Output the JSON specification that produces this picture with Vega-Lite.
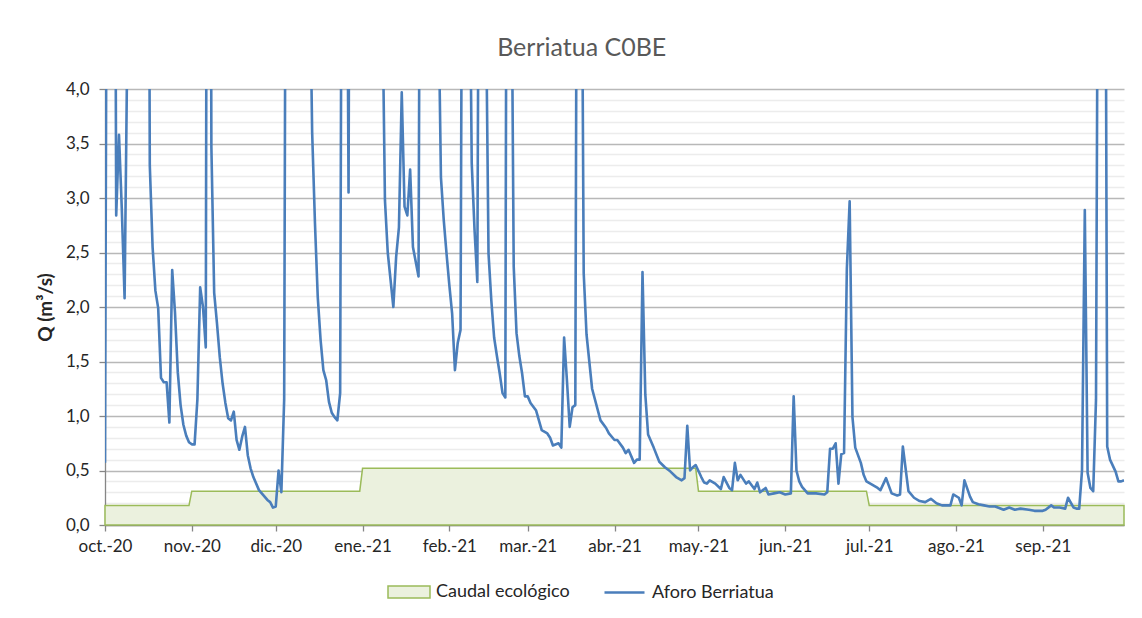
{
  "$schema": "https://vega.github.io/schema/vega-lite/v6.json",
  "width": 1019,
  "height": 436,
  "autosize": {"type": "none"},
  "padding": {"left": 105, "top": 89, "right": 18, "bottom": 93},
  "background": "white",
  "title": {"text": "Berriatua C0BE", "fontSize": 25, "font": "Lato", "color": "#595959", "fontWeight": "normal", "anchor": "middle", "frame": "bounds", "offset": 19},
  "datasets": {
    "caudal": [
      {"fecha": "2020-10-01", "q": 0.18}, {"fecha": "2020-10-31", "q": 0.18},
      {"fecha": "2020-11-01", "q": 0.31}, {"fecha": "2020-12-31", "q": 0.31},
      {"fecha": "2021-01-01", "q": 0.52}, {"fecha": "2021-04-30", "q": 0.52},
      {"fecha": "2021-05-01", "q": 0.31}, {"fecha": "2021-06-30", "q": 0.31},
      {"fecha": "2021-07-01", "q": 0.18}, {"fecha": "2021-09-30", "q": 0.18}
    ],
    "aforo": [
      {"fecha": "2020-10-01", "q": 0.57}, {"fecha": "2020-10-02", "q": 9}, {"fecha": "2020-10-03", "q": 12},
      {"fecha": "2020-10-04", "q": 11}, {"fecha": "2020-10-05", "q": 2.84}, {"fecha": "2020-10-06", "q": 3.58},
      {"fecha": "2020-10-07", "q": 2.9}, {"fecha": "2020-10-08", "q": 2.08}, {"fecha": "2020-10-09", "q": 4.5},
      {"fecha": "2020-10-10", "q": 8}, {"fecha": "2020-10-11", "q": 10}, {"fecha": "2020-10-12", "q": 12},
      {"fecha": "2020-10-13", "q": 10}, {"fecha": "2020-10-14", "q": 9}, {"fecha": "2020-10-15", "q": 8},
      {"fecha": "2020-10-16", "q": 12}, {"fecha": "2020-10-17", "q": 3.3}, {"fecha": "2020-10-18", "q": 2.55},
      {"fecha": "2020-10-19", "q": 2.15}, {"fecha": "2020-10-20", "q": 1.99}, {"fecha": "2020-10-21", "q": 1.35},
      {"fecha": "2020-10-22", "q": 1.31}, {"fecha": "2020-10-23", "q": 1.31}, {"fecha": "2020-10-24", "q": 0.94},
      {"fecha": "2020-10-25", "q": 2.34}, {"fecha": "2020-10-26", "q": 1.95}, {"fecha": "2020-10-27", "q": 1.4},
      {"fecha": "2020-10-28", "q": 1.1}, {"fecha": "2020-10-29", "q": 0.92}, {"fecha": "2020-10-30", "q": 0.82},
      {"fecha": "2020-10-31", "q": 0.76}, {"fecha": "2020-11-01", "q": 0.74}, {"fecha": "2020-11-02", "q": 0.74},
      {"fecha": "2020-11-03", "q": 1.15}, {"fecha": "2020-11-04", "q": 2.18}, {"fecha": "2020-11-05", "q": 2.0},
      {"fecha": "2020-11-06", "q": 1.63}, {"fecha": "2020-11-07", "q": 15}, {"fecha": "2020-11-08", "q": 3.47},
      {"fecha": "2020-11-09", "q": 2.13}, {"fecha": "2020-11-10", "q": 1.85}, {"fecha": "2020-11-11", "q": 1.54},
      {"fecha": "2020-11-12", "q": 1.3}, {"fecha": "2020-11-13", "q": 1.12}, {"fecha": "2020-11-14", "q": 0.98},
      {"fecha": "2020-11-15", "q": 0.96}, {"fecha": "2020-11-16", "q": 1.04}, {"fecha": "2020-11-17", "q": 0.78},
      {"fecha": "2020-11-18", "q": 0.69}, {"fecha": "2020-11-19", "q": 0.81}, {"fecha": "2020-11-20", "q": 0.9},
      {"fecha": "2020-11-21", "q": 0.64}, {"fecha": "2020-11-22", "q": 0.52}, {"fecha": "2020-11-23", "q": 0.44},
      {"fecha": "2020-11-25", "q": 0.32}, {"fecha": "2020-11-27", "q": 0.26}, {"fecha": "2020-11-28", "q": 0.23},
      {"fecha": "2020-11-29", "q": 0.21}, {"fecha": "2020-11-30", "q": 0.16}, {"fecha": "2020-12-01", "q": 0.17},
      {"fecha": "2020-12-02", "q": 0.5}, {"fecha": "2020-12-03", "q": 0.3}, {"fecha": "2020-12-04", "q": 1.15},
      {"fecha": "2020-12-05", "q": 10}, {"fecha": "2020-12-06", "q": 14}, {"fecha": "2020-12-08", "q": 11},
      {"fecha": "2020-12-10", "q": 9}, {"fecha": "2020-12-12", "q": 7}, {"fecha": "2020-12-13", "q": 5.4},
      {"fecha": "2020-12-14", "q": 3.6}, {"fecha": "2020-12-15", "q": 2.77}, {"fecha": "2020-12-16", "q": 2.09},
      {"fecha": "2020-12-17", "q": 1.7}, {"fecha": "2020-12-18", "q": 1.42}, {"fecha": "2020-12-19", "q": 1.33},
      {"fecha": "2020-12-20", "q": 1.13}, {"fecha": "2020-12-21", "q": 1.03}, {"fecha": "2020-12-22", "q": 0.99},
      {"fecha": "2020-12-23", "q": 0.96}, {"fecha": "2020-12-24", "q": 1.21}, {"fecha": "2020-12-25", "q": 10},
      {"fecha": "2020-12-26", "q": 8}, {"fecha": "2020-12-27", "q": 3.05}, {"fecha": "2020-12-28", "q": 12},
      {"fecha": "2020-12-30", "q": 15}, {"fecha": "2021-01-02", "q": 10}, {"fecha": "2021-01-05", "q": 8},
      {"fecha": "2021-01-07", "q": 6}, {"fecha": "2021-01-08", "q": 5}, {"fecha": "2021-01-09", "q": 2.98},
      {"fecha": "2021-01-10", "q": 2.5}, {"fecha": "2021-01-11", "q": 2.25}, {"fecha": "2021-01-12", "q": 2.0},
      {"fecha": "2021-01-13", "q": 2.46}, {"fecha": "2021-01-14", "q": 2.73}, {"fecha": "2021-01-15", "q": 3.97},
      {"fecha": "2021-01-16", "q": 2.92}, {"fecha": "2021-01-17", "q": 2.84}, {"fecha": "2021-01-18", "q": 3.26},
      {"fecha": "2021-01-19", "q": 2.55}, {"fecha": "2021-01-21", "q": 2.28}, {"fecha": "2021-01-22", "q": 10},
      {"fecha": "2021-01-24", "q": 14}, {"fecha": "2021-01-26", "q": 9}, {"fecha": "2021-01-28", "q": 5},
      {"fecha": "2021-01-29", "q": 3.19}, {"fecha": "2021-01-30", "q": 2.8}, {"fecha": "2021-01-31", "q": 2.49},
      {"fecha": "2021-02-01", "q": 2.2}, {"fecha": "2021-02-02", "q": 1.94}, {"fecha": "2021-02-03", "q": 1.42},
      {"fecha": "2021-02-04", "q": 1.67}, {"fecha": "2021-02-05", "q": 1.79}, {"fecha": "2021-02-06", "q": 9},
      {"fecha": "2021-02-07", "q": 12}, {"fecha": "2021-02-08", "q": 6}, {"fecha": "2021-02-09", "q": 3.32},
      {"fecha": "2021-02-10", "q": 2.71}, {"fecha": "2021-02-11", "q": 2.23}, {"fecha": "2021-02-12", "q": 9},
      {"fecha": "2021-02-13", "q": 8}, {"fecha": "2021-02-14", "q": 5}, {"fecha": "2021-02-15", "q": 2.49},
      {"fecha": "2021-02-16", "q": 2.06}, {"fecha": "2021-02-17", "q": 1.72}, {"fecha": "2021-02-18", "q": 1.55},
      {"fecha": "2021-02-19", "q": 1.39}, {"fecha": "2021-02-20", "q": 1.21}, {"fecha": "2021-02-21", "q": 1.17},
      {"fecha": "2021-02-22", "q": 12}, {"fecha": "2021-02-23", "q": 6}, {"fecha": "2021-02-24", "q": 2.37},
      {"fecha": "2021-02-25", "q": 1.76}, {"fecha": "2021-02-26", "q": 1.55}, {"fecha": "2021-02-27", "q": 1.39},
      {"fecha": "2021-02-28", "q": 1.18}, {"fecha": "2021-03-01", "q": 1.18}, {"fecha": "2021-03-02", "q": 1.12},
      {"fecha": "2021-03-04", "q": 1.05}, {"fecha": "2021-03-05", "q": 0.96}, {"fecha": "2021-03-06", "q": 0.87},
      {"fecha": "2021-03-08", "q": 0.84}, {"fecha": "2021-03-09", "q": 0.8}, {"fecha": "2021-03-10", "q": 0.73},
      {"fecha": "2021-03-12", "q": 0.75}, {"fecha": "2021-03-13", "q": 0.71}, {"fecha": "2021-03-14", "q": 1.72},
      {"fecha": "2021-03-15", "q": 1.33}, {"fecha": "2021-03-16", "q": 0.9}, {"fecha": "2021-03-17", "q": 1.08},
      {"fecha": "2021-03-18", "q": 1.1}, {"fecha": "2021-03-19", "q": 10}, {"fecha": "2021-03-20", "q": 7},
      {"fecha": "2021-03-21", "q": 2.31}, {"fecha": "2021-03-22", "q": 1.75}, {"fecha": "2021-03-24", "q": 1.25},
      {"fecha": "2021-03-27", "q": 0.96}, {"fecha": "2021-03-29", "q": 0.89}, {"fecha": "2021-03-30", "q": 0.84},
      {"fecha": "2021-04-01", "q": 0.78}, {"fecha": "2021-04-02", "q": 0.78}, {"fecha": "2021-04-04", "q": 0.71},
      {"fecha": "2021-04-05", "q": 0.66}, {"fecha": "2021-04-06", "q": 0.69}, {"fecha": "2021-04-08", "q": 0.57},
      {"fecha": "2021-04-09", "q": 0.6}, {"fecha": "2021-04-10", "q": 0.6}, {"fecha": "2021-04-11", "q": 2.32},
      {"fecha": "2021-04-12", "q": 1.2}, {"fecha": "2021-04-13", "q": 0.83}, {"fecha": "2021-04-15", "q": 0.71},
      {"fecha": "2021-04-17", "q": 0.58}, {"fecha": "2021-04-19", "q": 0.53}, {"fecha": "2021-04-21", "q": 0.49},
      {"fecha": "2021-04-23", "q": 0.44}, {"fecha": "2021-04-25", "q": 0.41}, {"fecha": "2021-04-26", "q": 0.43},
      {"fecha": "2021-04-27", "q": 0.91}, {"fecha": "2021-04-28", "q": 0.5}, {"fecha": "2021-04-29", "q": 0.53},
      {"fecha": "2021-04-30", "q": 0.55}, {"fecha": "2021-05-02", "q": 0.44}, {"fecha": "2021-05-03", "q": 0.39},
      {"fecha": "2021-05-04", "q": 0.38}, {"fecha": "2021-05-05", "q": 0.41}, {"fecha": "2021-05-07", "q": 0.38},
      {"fecha": "2021-05-09", "q": 0.33}, {"fecha": "2021-05-10", "q": 0.44}, {"fecha": "2021-05-12", "q": 0.34},
      {"fecha": "2021-05-13", "q": 0.32}, {"fecha": "2021-05-14", "q": 0.57}, {"fecha": "2021-05-15", "q": 0.41},
      {"fecha": "2021-05-16", "q": 0.46}, {"fecha": "2021-05-18", "q": 0.38}, {"fecha": "2021-05-19", "q": 0.4},
      {"fecha": "2021-05-21", "q": 0.33}, {"fecha": "2021-05-22", "q": 0.39}, {"fecha": "2021-05-23", "q": 0.3},
      {"fecha": "2021-05-25", "q": 0.34}, {"fecha": "2021-05-26", "q": 0.28}, {"fecha": "2021-05-28", "q": 0.29},
      {"fecha": "2021-05-30", "q": 0.3}, {"fecha": "2021-06-01", "q": 0.28}, {"fecha": "2021-06-03", "q": 0.29},
      {"fecha": "2021-06-04", "q": 1.18}, {"fecha": "2021-06-05", "q": 0.5}, {"fecha": "2021-06-06", "q": 0.4},
      {"fecha": "2021-06-07", "q": 0.35}, {"fecha": "2021-06-08", "q": 0.32}, {"fecha": "2021-06-09", "q": 0.29},
      {"fecha": "2021-06-12", "q": 0.29}, {"fecha": "2021-06-15", "q": 0.28}, {"fecha": "2021-06-16", "q": 0.3},
      {"fecha": "2021-06-17", "q": 0.7}, {"fecha": "2021-06-18", "q": 0.7}, {"fecha": "2021-06-19", "q": 0.75},
      {"fecha": "2021-06-20", "q": 0.38}, {"fecha": "2021-06-21", "q": 0.65}, {"fecha": "2021-06-22", "q": 0.66},
      {"fecha": "2021-06-23", "q": 2.35}, {"fecha": "2021-06-24", "q": 2.97}, {"fecha": "2021-06-25", "q": 0.99},
      {"fecha": "2021-06-26", "q": 0.71}, {"fecha": "2021-06-28", "q": 0.57}, {"fecha": "2021-06-29", "q": 0.46},
      {"fecha": "2021-06-30", "q": 0.4}, {"fecha": "2021-07-02", "q": 0.37}, {"fecha": "2021-07-04", "q": 0.34},
      {"fecha": "2021-07-05", "q": 0.32}, {"fecha": "2021-07-07", "q": 0.43}, {"fecha": "2021-07-09", "q": 0.29},
      {"fecha": "2021-07-11", "q": 0.27}, {"fecha": "2021-07-12", "q": 0.28}, {"fecha": "2021-07-13", "q": 0.72},
      {"fecha": "2021-07-15", "q": 0.31}, {"fecha": "2021-07-17", "q": 0.25}, {"fecha": "2021-07-19", "q": 0.22},
      {"fecha": "2021-07-21", "q": 0.21}, {"fecha": "2021-07-23", "q": 0.24}, {"fecha": "2021-07-25", "q": 0.2},
      {"fecha": "2021-07-27", "q": 0.18}, {"fecha": "2021-07-30", "q": 0.18}, {"fecha": "2021-07-31", "q": 0.28},
      {"fecha": "2021-08-02", "q": 0.25}, {"fecha": "2021-08-03", "q": 0.18}, {"fecha": "2021-08-04", "q": 0.41},
      {"fecha": "2021-08-06", "q": 0.26}, {"fecha": "2021-08-07", "q": 0.21}, {"fecha": "2021-08-09", "q": 0.19},
      {"fecha": "2021-08-11", "q": 0.18}, {"fecha": "2021-08-13", "q": 0.17}, {"fecha": "2021-08-15", "q": 0.17},
      {"fecha": "2021-08-18", "q": 0.14}, {"fecha": "2021-08-20", "q": 0.16}, {"fecha": "2021-08-22", "q": 0.14},
      {"fecha": "2021-08-24", "q": 0.15}, {"fecha": "2021-08-27", "q": 0.14}, {"fecha": "2021-08-29", "q": 0.13},
      {"fecha": "2021-09-01", "q": 0.13}, {"fecha": "2021-09-02", "q": 0.14}, {"fecha": "2021-09-04", "q": 0.18},
      {"fecha": "2021-09-05", "q": 0.16}, {"fecha": "2021-09-07", "q": 0.16}, {"fecha": "2021-09-09", "q": 0.15},
      {"fecha": "2021-09-10", "q": 0.25}, {"fecha": "2021-09-12", "q": 0.16}, {"fecha": "2021-09-13", "q": 0.15},
      {"fecha": "2021-09-14", "q": 0.15}, {"fecha": "2021-09-15", "q": 0.5}, {"fecha": "2021-09-16", "q": 2.89},
      {"fecha": "2021-09-17", "q": 0.48}, {"fecha": "2021-09-18", "q": 0.34}, {"fecha": "2021-09-19", "q": 0.31},
      {"fecha": "2021-09-20", "q": 1.15}, {"fecha": "2021-09-21", "q": 8}, {"fecha": "2021-09-22", "q": 12},
      {"fecha": "2021-09-23", "q": 9}, {"fecha": "2021-09-24", "q": 0.72}, {"fecha": "2021-09-25", "q": 0.6},
      {"fecha": "2021-09-27", "q": 0.49}, {"fecha": "2021-09-28", "q": 0.4}, {"fecha": "2021-09-29", "q": 0.4},
      {"fecha": "2021-09-30", "q": 0.41}
    ]
  },
  "layer": [
    {
      "data": {"name": "caudal"},
      "mark": {"type": "area", "stroke": "#9BBB59", "strokeWidth": 1.5, "opacity": 1, "fillOpacity": 1},
      "encoding": {
        "x": {
          "field": "fecha", "type": "temporal",
          "scale": {"type": "utc", "domain": [{"year": 2020, "month": 10, "date": 1, "utc": true}, {"year": 2021, "month": 9, "date": 30, "utc": true}]},
          "axis": {
            "values": [
              {"year": 2020, "month": 10, "date": 1, "utc": true}, {"year": 2020, "month": 11, "date": 1, "utc": true},
              {"year": 2020, "month": 12, "date": 1, "utc": true}, {"year": 2021, "month": 1, "date": 1, "utc": true},
              {"year": 2021, "month": 2, "date": 1, "utc": true}, {"year": 2021, "month": 3, "date": 1, "utc": true},
              {"year": 2021, "month": 4, "date": 1, "utc": true}, {"year": 2021, "month": 5, "date": 1, "utc": true},
              {"year": 2021, "month": 6, "date": 1, "utc": true}, {"year": 2021, "month": 7, "date": 1, "utc": true},
              {"year": 2021, "month": 8, "date": 1, "utc": true}, {"year": 2021, "month": 9, "date": 1, "utc": true}
            ],
            "labelExpr": "['ene.','feb.','mar.','abr.','may.','jun.','jul.','ago.','sep.','oct.','nov.','dic.'][utcmonth(datum.value)] + '-' + utcFormat(datum.value, '%y')",
            "title": null, "grid": false, "labelFont": "Lato", "labelFontSize": 17, "labelColor": "#262626",
            "tickSize": 6, "tickColor": "#868686", "tickWidth": 1.3, "domainColor": "#868686", "domainWidth": 1.3,
            "labelPadding": 7, "labelFlush": false, "labelOverlap": false
          }
        },
        "y": {
          "field": "q", "type": "quantitative",
          "scale": {"domain": [0, 4], "nice": false, "zero": true},
          "axis": {
            "values": [0.1, 0.2, 0.3, 0.4, 0.6, 0.7, 0.8, 0.9, 1.1, 1.2, 1.3, 1.4, 1.6, 1.7, 1.8, 1.9, 2.1, 2.2, 2.3, 2.4, 2.6, 2.7, 2.8, 2.9, 3.1, 3.2, 3.3, 3.4, 3.6, 3.7, 3.8, 3.9],
            "orient": "left", "labels": false, "ticks": false, "domain": false, "title": null,
            "grid": true, "gridColor": "#ececec", "gridWidth": 1.5
          }
        },
        "fill": {
          "datum": "Caudal ecológico", "type": "nominal",
          "scale": {"domain": ["Caudal ecológico"], "range": ["#EBF1DE"]},
          "legend": {
            "orient": "none", "legendX": 283, "legendY": 482, "title": null,
            "labelFont": "Lato", "labelFontSize": 18, "labelColor": "#262626",
            "symbolType": "M-1.05,-0.3H1.05V0.3H-1.05Z", "symbolSize": 1600,
            "symbolStrokeColor": "#9BBB59", "symbolStrokeWidth": 1.5, "symbolOpacity": 1,
            "labelOffset": 6
          }
        }
      }
    },
    {
      "data": {"name": "aforo"},
      "mark": {"type": "line", "strokeWidth": 2.6, "clip": true, "strokeJoin": "round"},
      "encoding": {
        "x": {"field": "fecha", "type": "temporal"},
        "y": {
          "field": "q", "type": "quantitative",
          "axis": {
            "values": [0, 0.5, 1, 1.5, 2, 2.5, 3, 3.5, 4],
            "orient": "left",
            "labelExpr": "replace(format(datum.value, '.1f'), '.', ',')",
            "title": "Q (m³/s)", "titleFont": "Lato", "titleFontSize": 19, "titleFontWeight": "bold", "titleColor": "#262626", "titlePadding": 10,
            "labelFont": "Lato", "labelFontSize": 17, "labelColor": "#262626", "labelPadding": 10,
            "tickSize": 6, "tickColor": "#868686", "tickWidth": 1.3, "domainColor": "#868686", "domainWidth": 1.3,
            "grid": true, "gridColor": "#b8b8b8", "gridWidth": 1.3
          }
        },
        "stroke": {
          "datum": "Aforo Berriatua", "type": "nominal",
          "scale": {"domain": ["Aforo Berriatua"], "range": ["#4A7EBB"]},
          "legend": {
            "orient": "none", "legendX": 498, "legendY": 482, "title": null,
            "labelFont": "Lato", "labelFontSize": 18, "labelColor": "#262626",
            "symbolType": "stroke", "symbolSize": 1600, "symbolStrokeWidth": 2.6, "symbolOpacity": 1,
            "labelOffset": 6
          }
        }
      }
    }
  ],
  "resolve": {"axis": {"y": "independent"}},
  "config": {"view": {"stroke": null}, "font": "Lato"}
}
